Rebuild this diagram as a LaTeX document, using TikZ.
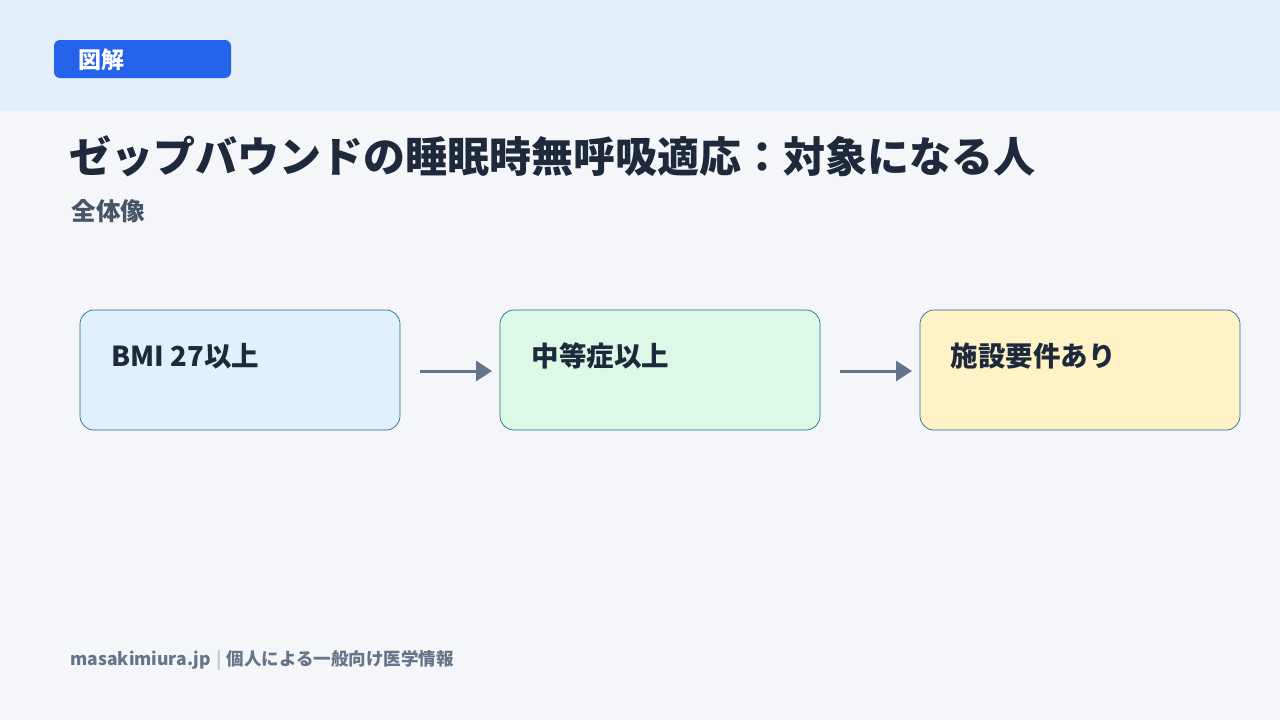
\documentclass[tikz,border=0pt]{standalone}
\usepackage{fontspec}
\setmainfont{Noto Sans CJK JP}
\usetikzlibrary{arrows.meta}
\definecolor{bandblue}{HTML}{E5EFFA}
\definecolor{pagebg}{HTML}{F4F6FA}
\definecolor{tagblue}{HTML}{2563EB}
\definecolor{inkdark}{HTML}{1E293B}
\definecolor{inkgray}{HTML}{475569}
\definecolor{footgray}{HTML}{64748B}
\definecolor{boxline}{HTML}{1F6F8B}
\definecolor{fillA}{HTML}{E0F0FC}
\definecolor{fillB}{HTML}{DCF9E8}
\definecolor{fillC}{HTML}{FEF2C6}
\tikzset{
  stepbox/.style={draw=boxline, line width=0.7pt, rounded corners=14pt},
  steptext/.style={anchor=west, font=\fontsize{27.5}{32}\selectfont\bfseries, text=inkdark},
  flow/.style={draw=footgray, line width=3pt, -{Triangle[length=16pt,width=20pt]}}
}
\begin{document}
\begin{tikzpicture}[x=1pt, y=-1pt]
    % background and header band
    \fill[pagebg] (0, 0) rectangle (1280, 720);
    \fill[bandblue] (0, 0) rectangle (1280, 111);
    \useasboundingbox (0, 0) rectangle (1280, 720);

    % tag
    \fill[tagblue, rounded corners=6pt] (54, 40) rectangle (231, 78);
    \node[anchor=west, text=white, font=\fontsize{23}{26}\selectfont\bfseries] (tag) at (75, 60) {図解};

    % title and subtitle
    \node[anchor=west, text=inkdark, font=\fontsize{42}{48}\selectfont\bfseries] (title) at (66, 156) {ゼップバウンドの睡眠時無呼吸適応：対象になる人};
    \node[anchor=west, text=inkgray, font=\fontsize{24.5}{28}\selectfont\bfseries] (subtitle) at (68, 211) {全体像};

    % steps
    \filldraw[stepbox, fill=fillA] (80, 310) rectangle (400, 430);
    \filldraw[stepbox, fill=fillB] (500, 310) rectangle (820, 430);
    \filldraw[stepbox, fill=fillC] (920, 310) rectangle (1240, 430);
    \node[steptext] (bmi) at (108, 356) {BMI 27以上};
    \node[steptext] (severity) at (528, 356) {中等症以上};
    \node[steptext] (facility) at (947, 356) {施設要件あり};

    % arrows
    \coordinate (a1) at (420, 371);
    \coordinate (a2) at (492, 371);
    \coordinate (b1) at (840, 371);
    \coordinate (b2) at (912, 371);
    \draw[flow] (a1) -- (a2);
    \draw[flow] (b1) -- (b2);

    % footer
    \node[anchor=west, text=footgray, font=\fontsize{17.5}{20}\selectfont\bfseries] (footer) at (67, 660)
        {masakimiura.jp\hspace{5pt}\textcolor{footgray!40}{|}\hspace{5pt}個人による一般向け医学情報};
\end{tikzpicture}
\end{document}
